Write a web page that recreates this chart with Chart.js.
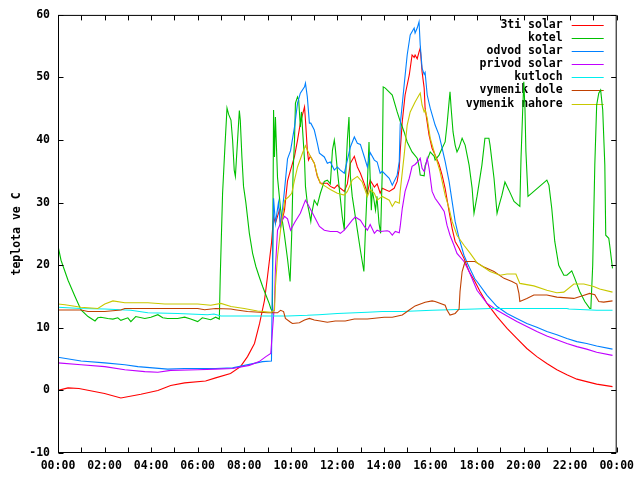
<!DOCTYPE html>
<html>
<head>
<meta charset="utf-8">
<script src="https://cdn.jsdelivr.net/npm/chart.js@4.4.1/dist/chart.umd.min.js"></script>
<style>
  html, body { margin: 0; padding: 0; background: #fff; }
  #wrap { width: 640px; height: 480px; }
</style>
</head>
<body>
<div id="wrap"><canvas id="c"></canvas></div>
<script>
// hour labels every 2 hours, the last one wraps to midnight
const tickLabels = ['00:00','02:00','04:00','06:00','08:00','10:00','12:00',
                    '14:00','16:00','18:00','20:00','22:00','00:00'];

const seriesNames  = ['3ti solar','kotel','odvod solar','privod solar','kutloch','vymenik dole','vymenik nahore'];
const seriesColors = ['#ff0000','#00c000','#0080ff','#c000ff','#00eeee','#c04000','#c8c800'];

// [hour of day, temperature]
const solar3ti = [[0,0],[0.43,0.4],[0.9,0.3],[2.0,-0.5],[2.7,-1.2],[3.56,-0.6],[4.29,0],[4.84,0.8],[5.44,1.2],[6.34,1.5],[6.77,2.0],[7.41,2.7],[7.84,3.8],[8.14,5.4],[8.44,7.5],[8.66,10.7],[8.87,14.4],[9.0,18.2],[9.17,23.5],[9.26,27.8],[9.34,26.7],[9.51,28.8],[9.56,26.2],[9.73,28.8],[9.86,33.5],[9.99,35.2],[10.16,37.4],[10.29,40],[10.41,42.7],[10.59,45.3],[10.63,43.2],[10.71,38.4],[10.76,36.8],[10.84,37.4],[11.01,36.3],[11.14,34.2],[11.27,33.1],[11.57,33.1],[11.7,32.6],[11.87,32.3],[12.0,32.8],[12.13,32.3],[12.3,31.8],[12.43,33],[12.56,36.3],[12.73,37.4],[12.86,35.7],[12.99,34.7],[13.16,33],[13.29,31.5],[13.41,33.6],[13.59,32.5],[13.71,33],[13.84,31.5],[13.93,32.3],[14.23,31.8],[14.44,32.3],[14.57,33.4],[14.66,35.5],[14.7,38.2],[14.79,43],[14.91,47.2],[15.09,50.4],[15.21,53.6],[15.3,53.2],[15.34,53.6],[15.43,53],[15.51,54.1],[15.56,54.7],[15.64,50.9],[15.73,48.3],[15.77,45.1],[15.94,40.8],[16.07,38.7],[16.2,37.6],[16.37,36.1],[16.5,34.4],[16.63,32.3],[16.8,28.6],[16.93,25.9],[17.06,23.8],[17.23,22.7],[17.44,21.1],[17.66,19],[17.91,17.4],[18.13,15.8],[18.43,13.9],[18.86,11.8],[19.29,9.9],[19.71,8.3],[20.14,6.7],[20.57,5.4],[21.0,4.3],[21.43,3.3],[21.86,2.5],[22.29,1.8],[22.71,1.4],[23.14,1.0],[23.82,0.6]];

const kotel = [[0,23.1],[0.13,20.8],[0.43,17.6],[0.73,15.0],[0.99,12.85],[1.29,11.8],[1.59,11.1],[1.71,11.6],[1.84,11.7],[2.14,11.5],[2.36,11.4],[2.57,11.6],[2.7,11.2],[3.0,11.6],[3.13,11.0],[3.34,11.8],[3.73,11.5],[3.99,11.7],[4.29,12.1],[4.5,11.6],[4.71,11.5],[5.14,11.5],[5.44,11.7],[5.7,11.4],[6.0,11.0],[6.2,11.6],[6.56,11.3],[6.77,11.7],[6.93,11.4],[6.97,18.2],[7.07,31.5],[7.17,38.9],[7.26,45.1],[7.33,44.1],[7.43,43.2],[7.5,40],[7.57,35.2],[7.62,34.2],[7.69,38.5],[7.79,44.7],[7.83,43.2],[7.9,37.3],[7.97,32.6],[8.07,30],[8.22,25.1],[8.36,21.9],[8.5,19.8],[8.64,18.2],[8.79,16.6],[8.93,15.25],[9.07,13.9],[9.14,13.1],[9.21,12.6],[9.26,44.8],[9.3,37.3],[9.34,43.7],[9.43,34],[9.56,29],[9.72,25],[9.86,21],[9.97,17.4],[10.04,25],[10.1,35],[10.16,40],[10.2,45.9],[10.29,46.9],[10.34,46.4],[10.41,42.1],[10.46,44.5],[10.5,42],[10.59,36.8],[10.63,32.6],[10.71,29.9],[10.8,28.3],[10.86,27.0],[10.9,28.3],[11.01,30.4],[11.14,29.6],[11.27,31.5],[11.44,33.4],[11.57,33.6],[11.7,33],[11.79,38.4],[11.87,40],[11.91,38.8],[12.0,35.2],[12.09,32],[12.21,27.8],[12.3,25.6],[12.34,33],[12.43,40],[12.5,43.7],[12.56,34.2],[12.64,31],[12.73,28.8],[12.86,25.6],[12.99,22.4],[13.14,19],[13.21,26],[13.29,33],[13.36,39.7],[13.41,34],[13.46,28.8],[13.5,32],[13.57,30.5],[13.64,28.8],[13.7,31],[13.79,26.7],[13.86,25.1],[13.93,35],[13.97,48.5],[14.06,48.3],[14.36,47.2],[14.57,44.5],[14.7,43],[14.87,41.3],[15.0,39.7],[15.21,38.1],[15.43,37.1],[15.51,35.8],[15.56,34.4],[15.73,34.3],[15.77,35.9],[15.94,37.6],[15.99,38.1],[16.16,37.4],[16.2,36.8],[16.37,37.6],[16.5,38.7],[16.63,39.7],[16.71,42.4],[16.8,46.1],[16.84,47.7],[16.89,45],[16.97,41.3],[17.06,39.2],[17.14,38.1],[17.23,38.8],[17.36,40.3],[17.49,39.2],[17.66,36],[17.79,32.3],[17.87,28.3],[18.0,31],[18.21,36],[18.34,40.3],[18.51,40.3],[18.56,39.2],[18.73,33.9],[18.86,28.3],[18.94,29.5],[19.07,31.2],[19.2,33.3],[19.37,32],[19.59,30.2],[19.84,29.4],[19.89,37.1],[19.97,45.6],[20.01,49.3],[20.06,45],[20.1,38.2],[20.19,31],[20.44,31.8],[21.0,33.6],[21.09,32.8],[21.21,29.1],[21.34,23.8],[21.51,20],[21.73,18.4],[21.86,18.4],[22.07,19.1],[22.2,17.9],[22.41,15.8],[22.63,14.2],[22.84,13.1],[22.89,13.1],[22.97,20],[23.06,36],[23.14,45.6],[23.23,47.5],[23.31,48],[23.4,44.8],[23.49,36],[23.53,24.8],[23.66,24.3],[23.7,23.2],[23.82,19.5]];

const odvodSolar = [[0,5.3],[0.99,4.7],[2.01,4.4],[2.87,4.1],[3.43,3.8],[4.71,3.4],[5.44,3.5],[6.77,3.5],[7.5,3.6],[8.79,4.6],[9.17,4.7],[9.21,18],[9.26,30.7],[9.34,26.7],[9.47,30],[9.56,26],[9.73,32],[9.86,37],[9.99,38.3],[10.16,42.1],[10.29,45.9],[10.41,47.5],[10.59,48.5],[10.63,49.1],[10.71,46.9],[10.8,42.7],[10.86,42.7],[11.01,41.6],[11.14,39.5],[11.23,37.9],[11.44,37.3],[11.57,36.3],[11.7,36.5],[11.87,35.2],[12.0,35.7],[12.13,35.2],[12.3,34.7],[12.43,36.8],[12.56,38.9],[12.73,40.5],[12.86,39.5],[12.99,39.3],[13.16,37.3],[13.29,35.7],[13.41,38],[13.59,36.8],[13.71,36.5],[13.84,34.7],[13.93,35],[14.23,33.9],[14.36,32.8],[14.57,34.4],[14.66,36.6],[14.7,42.4],[14.87,48.8],[15.0,53.6],[15.13,56.8],[15.3,57.9],[15.34,57.1],[15.43,57.9],[15.51,58.9],[15.56,55.2],[15.64,51.5],[15.73,50.5],[15.77,50.8],[15.86,47.2],[15.99,45.1],[16.2,42.4],[16.37,40.8],[16.5,38.7],[16.63,36.6],[16.8,33.4],[16.93,30.2],[17.06,27],[17.23,24.3],[17.44,21.6],[17.6,20.2],[17.91,17.8],[18.0,17.4],[18.43,15.2],[18.86,13.4],[19.29,12.3],[19.71,11.5],[20.14,10.7],[20.57,10.1],[21.0,9.4],[21.43,8.9],[21.86,8.3],[22.29,7.8],[22.71,7.5],[23.14,7.1],[23.82,6.6]];

const privodSolar = [[0,4.4],[0.99,4.1],[2.01,3.8],[2.87,3.3],[3.73,3.0],[4.29,2.9],[4.84,3.2],[6.0,3.3],[6.77,3.4],[7.5,3.5],[8.22,4.0],[8.64,4.6],[8.93,5.4],[9.14,5.9],[9.3,13.9],[9.34,19.5],[9.43,25.6],[9.56,26.7],[9.73,27.8],[9.86,27.4],[9.99,25.6],[10.16,26.8],[10.41,28.3],[10.63,30.4],[10.71,29.9],[11.01,27.8],[11.23,26.2],[11.44,25.6],[11.7,25.4],[12.0,25.4],[12.13,25.1],[12.3,25.6],[12.43,26.2],[12.64,27.2],[12.77,27.7],[12.99,27.2],[13.16,26.2],[13.29,25.6],[13.41,26.5],[13.59,25.1],[13.71,25.6],[13.84,25.4],[14.14,25.5],[14.23,25.4],[14.36,24.8],[14.49,25.4],[14.66,25.2],[14.7,26.2],[14.79,29.1],[14.91,31.8],[15.09,33.9],[15.21,35.8],[15.34,36.1],[15.51,36.8],[15.56,37.1],[15.64,35.5],[15.73,35],[15.77,35.5],[15.86,37.1],[15.94,35.5],[16.07,31.8],[16.2,30.7],[16.41,29.6],[16.59,28.6],[16.71,26.4],[16.84,24.8],[17.01,23.2],[17.14,21.9],[17.44,20.6],[17.66,19],[17.91,16.8],[18.0,16.0],[18.43,13.9],[18.86,12.8],[19.29,11.9],[19.71,11.0],[20.14,10.2],[20.57,9.4],[21.0,8.7],[21.43,8.1],[21.86,7.5],[22.29,7.0],[22.71,6.6],[23.14,6.1],[23.82,5.6]];

const kutloch = [[0,13.3],[0.99,13.1],[2.01,13.0],[3.13,12.8],[3.86,12.4],[5.14,12.3],[6.43,12.1],[6.7,12.2],[7.0,11.9],[9.86,11.9],[10.71,12.0],[11.2,12.1],[12.0,12.3],[13.29,12.5],[13.93,12.6],[14.79,12.6],[16.07,12.8],[17.91,13.0],[18.56,13.1],[21.86,13.1],[21.95,13.0],[23.14,12.8],[23.82,12.8]];

const vymenikDole = [[0,12.85],[0.99,12.85],[1.29,12.6],[2.01,12.6],[2.7,12.85],[2.87,13.1],[6.0,13.1],[6.3,12.9],[6.77,13.1],[7.43,13.0],[7.6,12.9],[8.14,12.6],[9.0,12.4],[9.43,12.4],[9.56,12.8],[9.69,12.6],[9.77,11.5],[9.99,10.9],[10.07,10.7],[10.37,10.8],[10.59,11.25],[10.8,11.5],[11.01,11.25],[11.27,11.1],[11.57,10.9],[11.91,11.1],[12.34,11.1],[12.73,11.4],[13.29,11.4],[14.01,11.7],[14.36,11.7],[14.79,12.05],[15.09,12.85],[15.34,13.5],[15.77,14.1],[16.07,14.3],[16.2,14.2],[16.63,13.6],[16.71,12.85],[16.84,12.05],[17.06,12.3],[17.23,13.0],[17.27,15.8],[17.36,19],[17.44,20],[17.49,20.6],[17.91,20.6],[18.3,19.7],[18.73,19.0],[19.16,17.9],[19.5,17.4],[19.71,17.0],[19.8,15.5],[19.84,14.2],[20.14,14.7],[20.44,15.25],[21.0,15.25],[21.43,14.9],[22.16,14.7],[22.5,15.1],[22.84,15.5],[23.06,15.3],[23.23,14.2],[23.44,14.1],[23.82,14.3]];

const vymenikNahore = [[0,13.8],[0.3,13.7],[0.99,13.3],[1.71,13.1],[2.01,13.8],[2.36,14.3],[2.87,14.0],[3.86,14.0],[4.59,13.8],[6.0,13.8],[6.56,13.6],[7.0,13.9],[7.43,13.4],[8.0,13.1],[8.57,12.7],[9.14,12.5],[9.3,12.8],[9.34,16.6],[9.43,21.4],[9.56,25.6],[9.74,30.4],[9.9,30.9],[10.04,31.5],[10.16,33.6],[10.29,35.7],[10.5,37.9],[10.63,39.1],[10.71,38.4],[10.84,37.4],[11.01,36.3],[11.14,34.4],[11.27,33.1],[11.49,32.6],[11.7,32.1],[12.0,31.5],[12.3,31.2],[12.43,31.8],[12.64,33.6],[12.86,34.2],[13.07,33.3],[13.29,31],[13.41,32.1],[13.59,31.5],[13.71,30.4],[13.93,31],[14.23,30.4],[14.36,29.4],[14.49,30.2],[14.66,29.9],[14.7,31.8],[14.87,37.6],[15.0,42.4],[15.13,44.5],[15.34,46.1],[15.51,47.2],[15.56,47.5],[15.64,45.6],[15.73,44.5],[15.77,44.8],[15.86,43.5],[15.99,40.3],[16.2,37.6],[16.41,35],[16.63,31.2],[16.8,29.1],[16.93,27],[17.14,24.8],[17.44,23.2],[17.71,21.9],[18.0,20.4],[18.56,19],[18.99,18.4],[19.29,18.6],[19.67,18.6],[19.84,17.1],[20.44,16.7],[21.0,16.0],[21.43,15.6],[21.73,15.7],[22.16,17.0],[22.59,17.0],[23.01,16.6],[23.27,16.2],[23.82,15.7]];

const seriesData = [solar3ti, kotel, odvodSolar, privodSolar, kutloch, vymenikDole, vymenikNahore];

const FONT = 'bold 11.5px "DejaVu Sans Mono", "Liberation Mono", monospace';

// gnuplot style: closed frame, inward ticks on all sides, key in top right corner
const gnuplotLook = {
  id: 'gnuplotLook',
  beforeDatasetsDraw(chart) {
    const { ctx, chartArea: a } = chart;
    ctx.save();
    ctx.font = FONT;
    ctx.textAlign = 'right';
    ctx.textBaseline = 'middle';
    chart.data.datasets.forEach((ds, i) => {
      const yy = Math.round(a.top + 10 + i * 13.1);
      ctx.fillStyle = '#000';
      ctx.fillText(ds.label, a.right - 54, yy + 0.5);
      ctx.fillStyle = seriesColors[i];
      ctx.fillRect(a.right - 45, yy, 32, 1);
    });
    ctx.restore();
  },
  afterDatasetsDraw(chart) {
    const { ctx, chartArea: a, scales: { x, y } } = chart;
    const L = a.left + 0.5, R = a.right - 0.5, T = a.top + 0.5, B = a.bottom - 0.5;
    ctx.save();
    ctx.strokeStyle = '#000';
    ctx.lineWidth = 1;
    ctx.beginPath();
    x.ticks.forEach(t => {
      const px = Math.round(x.getPixelForValue(t.value)) + 0.5;
      ctx.moveTo(px, B); ctx.lineTo(px, B - 5);
      ctx.moveTo(px, T); ctx.lineTo(px, T + 5);
    });
    y.ticks.forEach(t => {
      const py = Math.round(y.getPixelForValue(t.value)) + 0.5;
      ctx.moveTo(L, py); ctx.lineTo(L + 5, py);
      ctx.moveTo(R, py); ctx.lineTo(R - 5, py);
    });
    ctx.stroke();
    ctx.strokeRect(L, T, R - L, B - T);
    ctx.restore();
  }
};

new Chart(document.getElementById('c').getContext('2d'), {
  type: 'line',
  data: {
    datasets: seriesNames.map((name, i) => ({
      label: name,
      data: seriesData[i].map(p => ({ x: p[0], y: p[1] })),
      borderColor: seriesColors[i],
      borderWidth: 1.1,
      pointRadius: 0,
      tension: 0,
      fill: false,
      order: seriesNames.length - 1 - i,
    })),
  },
  options: {
    responsive: true,
    maintainAspectRatio: false,
    animation: false,
    devicePixelRatio: 1,
    layout: { padding: { top: 14, right: 19, left: 0, bottom: 0 } },
    scales: {
      x: {
        type: 'linear',
        min: 0,
        max: 24,
        afterFit: s => { s.height = 27; },
        grid: { display: false, drawTicks: false },
        border: { display: false },
        ticks: {
          stepSize: 1,
          autoSkip: false,
          maxRotation: 0,
          padding: 6,
          color: '#000',
          font: { family: '"DejaVu Sans Mono"', size: 11.5, weight: 'bold' },
          callback: value => (value % 2 === 0 ? tickLabels[value / 2] : ''),
        },
      },
      y: {
        min: -10,
        max: 60,
        afterFit: s => { s.width = 58; },
        grid: { display: false, drawTicks: false },
        border: { display: false },
        ticks: {
          stepSize: 10,
          padding: 8,
          color: '#000',
          font: { family: '"DejaVu Sans Mono"', size: 11.5, weight: 'bold' },
        },
        title: {
          display: true,
          text: 'teplota ve C',
          color: '#000',
          padding: { top: 10, bottom: 0 },
          font: { family: '"DejaVu Sans Mono"', size: 11.5, weight: 'bold' },
        },
      },
    },
    plugins: {
      legend: { display: false },
      tooltip: { enabled: false },
    },
  },
  plugins: [gnuplotLook],
});
</script>
</body>
</html>
